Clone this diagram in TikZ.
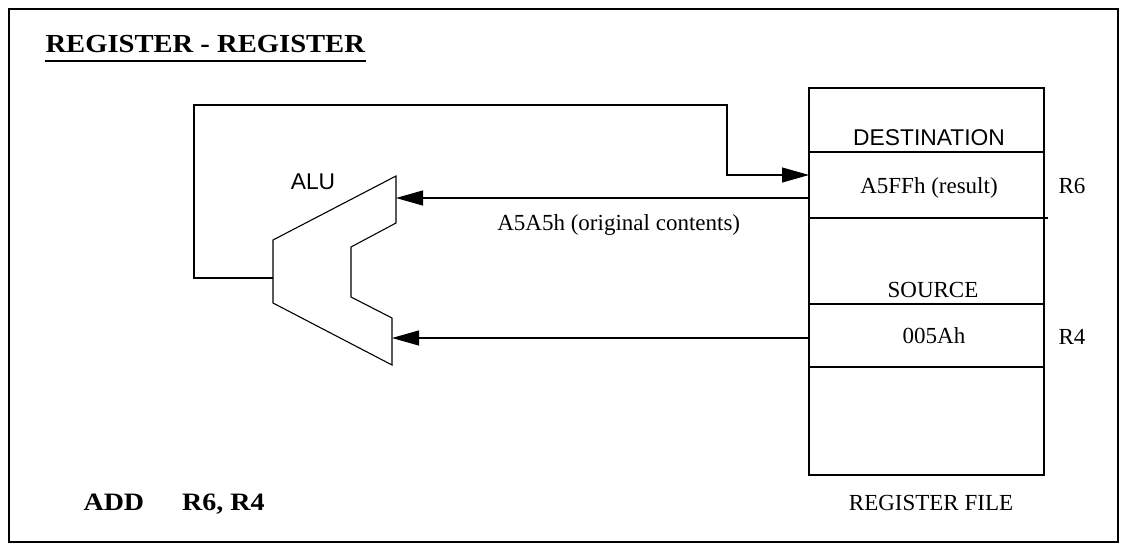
\documentclass[tikz,border=0pt]{standalone}
\usepackage{fontspec}
\setmainfont{Liberation Serif}
\newfontfamily\labelsans{Liberation Sans}
\usetikzlibrary{arrows.meta}

\begin{document}
\begin{tikzpicture}[x=1pt, y=-1pt, line width=1.1pt, line join=miter,
  flow/.style={-{Triangle[length=27pt,width=15pt]}},
  txt/.style={font=\fontsize{23}{23}\selectfont, inner sep=0pt, anchor=base},
  sanstxt/.style={font=\labelsans\fontsize{22.8}{22.8}\selectfont, inner sep=0pt, anchor=base},
  boldtxt/.style={font=\bfseries\addfontfeatures{FakeStretch=1.12}\fontsize{25}{25}\selectfont, inner sep=0pt, anchor=base west},
  divider/.style={line width=1.1pt}]
\useasboundingbox (0,0) rectangle (1123,546);

% outer frame
\draw[line width=2pt] (9,9) rectangle (1118,542);

% heading
\node[boldtxt, font=\bfseries\addfontfeatures{FakeStretch=1.1}\fontsize{26}{26}\selectfont] (title) at (45,52) {REGISTER - REGISTER};
\draw[line width=1.5pt] ([yshift=-9pt]title.base west) -- ([yshift=-9pt]title.base east);

% register file
\node[draw, minimum width=235pt, minimum height=387pt, inner sep=0pt] (rf) at (926.5,281.5) {};
\draw[divider] (809,152) -- (1044,152);
\draw[divider] (809,218) -- (1048,218);
\draw[divider] (809,304) -- (1044,304);
\draw[divider] (809,367) -- (1044,367);

\node[sanstxt] (dst) at (929,145) {DESTINATION};
\node[txt] (dstval) at (929,193) {A5FFh (result)};
\node[txt, anchor=base west] (r6) at (1058,193) {R6};
\node[txt] (src) at (933,297) {SOURCE};
\node[txt] (srcval) at (934,343) {005Ah};
\node[txt, anchor=base west] (r4) at (1058,344) {R4};
\node[txt] (rflabel) at (931,510) {REGISTER FILE};

% ALU
\draw (273,240) -- (396,176) -- (396,223) -- (351,247) -- (351,297)
      -- (392,318) -- (392,365) -- (273,303) -- cycle;
\node[sanstxt] (alu) at (313,189) {ALU};

\coordinate (aluA) at (396,198);
\coordinate (aluB) at (392,338);
\coordinate (aluOut) at (273,278);
\coordinate (rfA) at (rf.west |- aluA);
\coordinate (rfB) at (rf.west |- aluB);

% operand paths into the ALU
\draw[flow] (rfA) -- (aluA)
  node[txt, pos=0.46, yshift=-32pt] (orig) {A5A5h (original contents)};
\draw[flow] (rfB) -- (aluB);

% result written back to the destination register
\coordinate (wb) at (809,175);
\draw[flow] (aluOut) -- (194,278) -- (194,105) -- (727,105) -- (727,175) -- (wb);

% instruction
\node[boldtxt] (instr) at (83,510) {ADD\hspace{38pt}R6, R4};
\end{tikzpicture}
\end{document}
